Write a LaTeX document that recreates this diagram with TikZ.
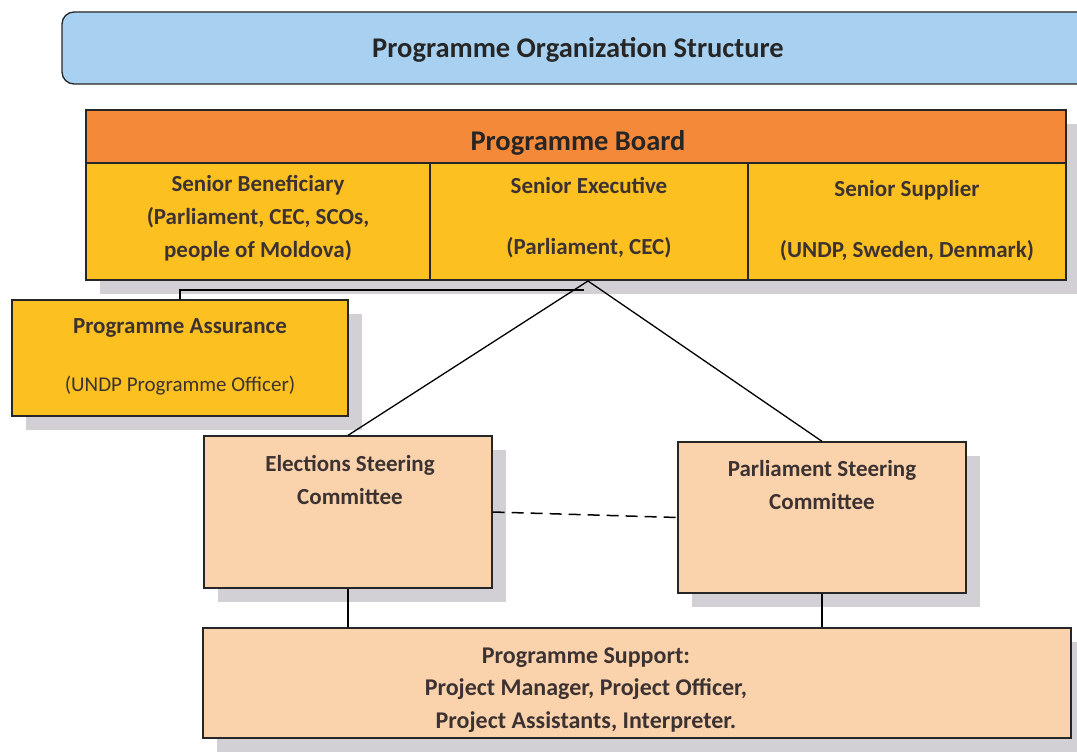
\documentclass[tikz,border=0pt]{standalone}
\usepackage{xcolor}
\usepackage{fontspec}
\setmainfont{Carlito}
\usepackage{tikz}
\usetikzlibrary{shadows}

\definecolor{titleblue}{RGB}{168,209,241}
\definecolor{boardorange}{RGB}{245,137,58}
\definecolor{cellyellow}{RGB}{252,192,32}
\definecolor{peach}{RGB}{250,211,172}
\definecolor{shadowgray}{RGB}{210,207,213}
\definecolor{textdark}{RGB}{60,50,50}

\tikzset{
  box/.style={draw=black!85, line width=1.3pt, inner sep=0pt},
  shade/.style={drop shadow={shadow xshift=14pt, shadow yshift=-14pt, fill=shadowgray, opacity=1}},
  txt/.style={font=\bfseries\fontsize{23}{33}\selectfont, text=textdark, align=center},
  big/.style={font=\bfseries\fontsize{28.5}{34}\selectfont, text=black!85},
}

\begin{document}
\begin{tikzpicture}[x=1pt,y=-1pt]
\clip (0,0) rectangle (1077,754);
\fill[white] (0,0) rectangle (1077,754);
%Title
\node[box, rounded corners=12pt, fill=titleblue, minimum width=1040pt, minimum height=72pt] (title) at (582,48) {};
\node[big] (titletext) at (578,50) {Programme Organization Structure};
%Board
\node[box, shade, fill=boardorange, minimum width=980pt, minimum height=53pt] (board) at (576,136.5) {};
\node[box, shade, fill=cellyellow, minimum width=344pt, minimum height=117pt] (benef) at (258,221.5) {};
\node[box, shade, fill=cellyellow, minimum width=318pt, minimum height=117pt] (exec) at (589,221.5) {};
\node[box, shade, fill=cellyellow, minimum width=318pt, minimum height=117pt] (suppl) at (907,221.5) {};
\node[big] (boardtext) at (578,143) {Programme Board};
\node[txt] (benefText) at (258,218) {Senior Beneficiary\\(Parliament, CEC, SCOs,\\people of Moldova)};
\node[txt] (execText) at (589,218) {Senior Executive\\[28pt](Parliament, CEC)};
\node[txt] (supplText) at (907,221) {Senior Supplier\\[28pt](UNDP, Sweden, Denmark)};
%Assurance
\node[box, shade, fill=cellyellow, minimum width=336pt, minimum height=116pt] (assur) at (180,358) {};
\node[txt] (assurText) at (180,328) {Programme Assurance};
\node[txt, font=\fontsize{21}{26}\selectfont] (assurSub) at (180,386) {(UNDP Programme Officer)};
%Steering committees
\node[box, shade, fill=peach, minimum width=288pt, minimum height=152pt] (elect) at (348,512) {};
\node[txt] (electText) at (350,480) {Elections Steering\\Committee};
\node[box, shade, fill=peach, minimum width=288pt, minimum height=151pt] (parl) at (822,517.5) {};
\node[txt] (parlText) at (822,485) {Parliament Steering\\Committee};
%Support
\node[box, shade, fill=peach, minimum width=868pt, minimum height=110pt] (supp) at (637,683) {};
\node[txt, font=\bfseries\fontsize{24}{32.5}\selectfont] (suppText) at (586,690) {Programme Support:\\Project Manager, Project Officer,\\Project Assistants, Interpreter.};
%Lines
\coordinate (apex) at (588,281);
\coordinate (join) at (584,290);
\draw[line width=1.3pt] (assur.north) |- (join);
\draw[line width=1.3pt] (apex) -- (elect.north);
\draw[line width=1.3pt] (apex) -- (parl.north);
\draw[line width=1.5pt, dash pattern=on 12pt off 7pt] (elect.east) -- (parl.west);
\draw[line width=1.3pt] (elect.south) -- (elect.south |- supp.north);
\draw[line width=1.3pt] (parl.south) -- (parl.south |- supp.north);
\end{tikzpicture}
\end{document}
